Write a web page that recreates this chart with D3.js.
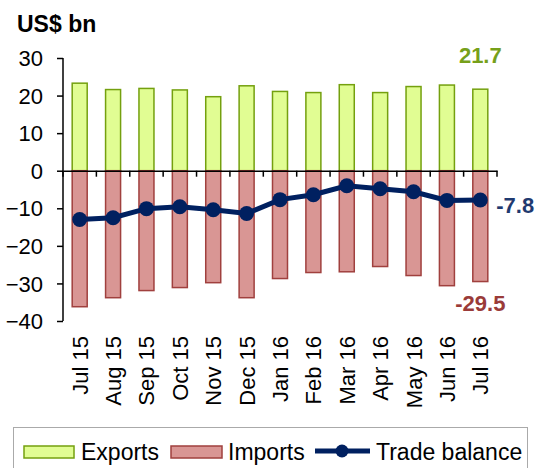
<!DOCTYPE html>
<html>
<head>
<meta charset="utf-8">
<script src="https://cdn.jsdelivr.net/npm/d3@7"></script>
<style>
  body { margin: 0; background: #fff; }
  text { font-family: "Liberation Sans", Arial, sans-serif; }
</style>
</head>
<body>
<div class="chart"></div>
<script>
// monthly trade, US$ bn
var months = ["Jul 15", "Aug 15", "Sep 15", "Oct 15", "Nov 15", "Dec 15", "Jan 16",
  "Feb 16", "Mar 16", "Apr 16", "May 16", "Jun 16", "Jul 16"];
var exportsBn = [23.3, 21.6, 21.9, 21.5, 19.7, 22.6, 21.1, 20.8, 22.9, 20.8, 22.4, 22.8, 21.7];
var importsBn = [-36.2, -33.8, -31.9, -31.1, -29.8, -33.8, -28.7, -27.1, -26.9, -25.5, -27.9, -30.6, -29.5];
var balanceBn = [-13.0, -12.5, -10.1, -9.6, -10.4, -11.4, -7.7, -6.4, -4.0, -4.8, -5.6, -7.9, -7.8];
var yTicks = [30, 20, 10, 0, -10, -20, -30, -40];

var svgWidth = 537;
var svgHeight = 468;
var margin = { top: 58, left: 63, right: 40, bottom: 147 };
var width = 434;
var height = 263;

var svg = d3.select(".chart")
  .append("svg")
  .attr("width", svgWidth)
  .attr("height", svgHeight);

var chart = svg.append("g")
  .attr("transform", "translate(" + margin.left + "," + margin.top + ")");

var x = d3.scaleBand().domain(months).range([0, width]);
var y = d3.scaleLinear().domain([-40, 30]).range([height, 0]);
var barW = 15;

// title
svg.append("text")
  .attr("x", 17).attr("y", 32)
  .attr("font-size", "23px").attr("font-weight", "bold")
  .text("US$ bn");

// exports bars
chart.selectAll(".exp")
  .data(exportsBn)
  .enter().append("rect")
  .attr("x", function(d, i) { return x(months[i]) + x.bandwidth() / 2 - barW / 2; })
  .attr("y", function(d) { return y(d); })
  .attr("width", barW)
  .attr("height", function(d) { return y(0) - y(d); })
  .attr("fill", "#e1fd93")
  .attr("stroke", "#74a00f")
  .attr("stroke-width", 1.5);

// imports bars
chart.selectAll(".imp")
  .data(importsBn)
  .enter().append("rect")
  .attr("x", function(d, i) { return x(months[i]) + x.bandwidth() / 2 - barW / 2; })
  .attr("y", y(0))
  .attr("width", barW)
  .attr("height", function(d) { return y(d) - y(0); })
  .attr("fill", "#d99694")
  .attr("stroke", "#a0403e")
  .attr("stroke-width", 1.5);

// y axis
var leftAxis = d3.axisLeft(y).tickValues(yTicks).tickSize(6).tickFormat(d3.format("d"));
var gy = chart.append("g").call(leftAxis);
gy.select(".domain").attr("stroke", "#000").attr("stroke-width", 1.5)
  .attr("d", "M0," + y(30) + "V" + y(-40));
gy.selectAll(".tick line").attr("stroke", "#000").attr("stroke-width", 1.5);
gy.selectAll(".tick text")
  .attr("font-size", "22px").attr("fill", "#000")
  .attr("font-family", "Liberation Sans, Arial, sans-serif")
  .attr("x", -20).attr("dy", "0.35em");

// zero line with category ticks
var xAxis = d3.axisBottom(x).tickSize(0).tickFormat("");
var gx = chart.append("g").attr("transform", "translate(0," + y(0) + ")").call(xAxis);
gx.select(".domain").attr("stroke", "#000").attr("stroke-width", 1.5);
gx.selectAll(".sep")
  .data(d3.range(months.length + 1))
  .enter().append("line")
  .attr("x1", function(d) { return d * x.step(); })
  .attr("x2", function(d) { return d * x.step(); })
  .attr("y1", 0).attr("y2", 6)
  .attr("stroke", "#000").attr("stroke-width", 1.5);

// month labels, rotated
chart.selectAll(".mlab")
  .data(months)
  .enter().append("text")
  .attr("transform", function(d) {
    return "translate(" + (x(d) + x.bandwidth() / 2 + 8) + "," + (height + 15) + ") rotate(-90)";
  })
  .attr("text-anchor", "end")
  .attr("font-size", "22px")
  .text(function(d) { return d; });

// trade balance line
var line = d3.line()
  .x(function(d, i) { return x(months[i]) + x.bandwidth() / 2; })
  .y(function(d) { return y(d); });
chart.append("path")
  .datum(balanceBn)
  .attr("d", line)
  .attr("fill", "none")
  .attr("stroke", "#002060")
  .attr("stroke-width", 5);
chart.selectAll(".dot")
  .data(balanceBn)
  .enter().append("circle")
  .attr("cx", function(d, i) { return x(months[i]) + x.bandwidth() / 2; })
  .attr("cy", function(d) { return y(d); })
  .attr("r", 7.5)
  .attr("fill", "#002060");

// end value labels
var last = months.length - 1;
var lastX = x(months[last]) + x.bandwidth() / 2;
chart.append("text")
  .attr("x", lastX).attr("y", y(30) + 5)
  .attr("text-anchor", "middle")
  .attr("font-size", "22px").attr("font-weight", "bold")
  .attr("fill", "#76a01a")
  .text(exportsBn[last].toFixed(1));
chart.append("text")
  .attr("x", lastX + 16).attr("y", y(balanceBn[last]) + 13)
  .attr("font-size", "22px").attr("font-weight", "bold")
  .attr("fill", "#1f3a70")
  .text(balanceBn[last].toFixed(1));
chart.append("text")
  .attr("x", lastX).attr("y", y(importsBn[last]) + 29)
  .attr("text-anchor", "middle")
  .attr("font-size", "22px").attr("font-weight", "bold")
  .attr("fill", "#9a3b39")
  .text(importsBn[last].toFixed(1));

// legend
var legend = svg.append("g");
legend.append("rect")
  .attr("x", 13.5).attr("y", 427.5).attr("width", 514).attr("height", 50)
  .attr("fill", "#fff").attr("stroke", "#aaa").attr("stroke-width", 1);
legend.append("rect")
  .attr("x", 24).attr("y", 446).attr("width", 50).attr("height", 12)
  .attr("fill", "#e1fd93").attr("stroke", "#74a00f").attr("stroke-width", 1.5);
legend.append("text").attr("x", 81).attr("y", 460).attr("font-size", "23px").text("Exports");
legend.append("rect")
  .attr("x", 171).attr("y", 446).attr("width", 51).attr("height", 12)
  .attr("fill", "#d99694").attr("stroke", "#a0403e").attr("stroke-width", 1.5);
legend.append("text").attr("x", 228).attr("y", 460).attr("font-size", "23px").text("Imports");
legend.append("line")
  .attr("x1", 315).attr("x2", 370).attr("y1", 451).attr("y2", 451)
  .attr("stroke", "#002060").attr("stroke-width", 5);
legend.append("circle").attr("cx", 342).attr("cy", 451).attr("r", 6.5).attr("fill", "#002060");
legend.append("text").attr("x", 376).attr("y", 460).attr("font-size", "23px").text("Trade balance");
</script>
</body>
</html>
